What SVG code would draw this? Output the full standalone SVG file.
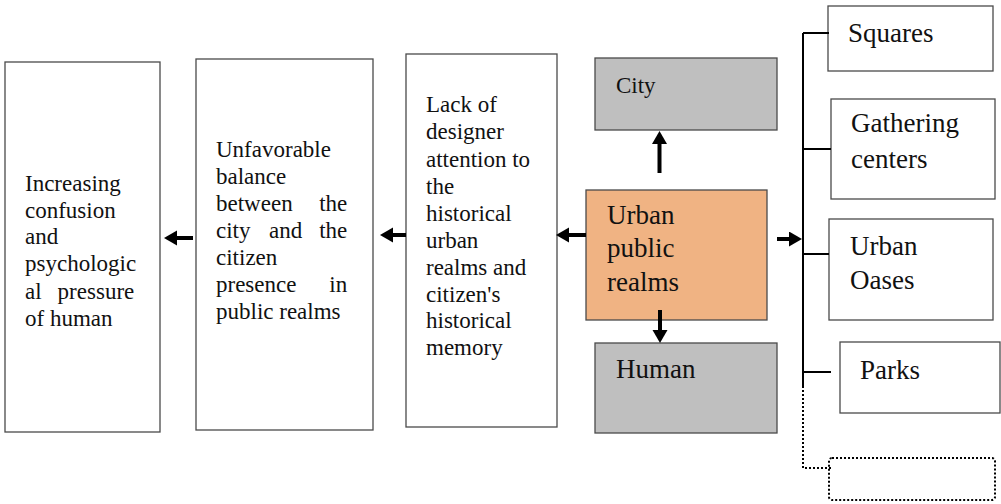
<svg xmlns="http://www.w3.org/2000/svg" width="1001" height="504" viewBox="0 0 1001 504">
<style>
  .box{fill:#fff;stroke:#4a4a4a;stroke-width:1.3}
  .gray{fill:#bfbfbf;stroke:#4a4a4a;stroke-width:1.3}
  .orange{fill:#f0b383;stroke:#4a4a4a;stroke-width:1.3}
  .dotted{fill:#fff;stroke:#000;stroke-width:2;stroke-dasharray:2,2}
  .t23{font-family:'Liberation Serif',serif;font-size:23px;fill:#111}
  .t27{font-family:'Liberation Serif',serif;font-size:27px;fill:#111}
  .arrow{stroke:#000;stroke-width:4;fill:none;marker-end:url(#head)}
  .br{stroke:#000;stroke-width:2;fill:none}
  .brd{stroke:#000;stroke-width:2;fill:none;stroke-dasharray:2,2}
</style>
<defs>
  <marker id="head" markerUnits="userSpaceOnUse" markerWidth="14" markerHeight="16" refX="1" refY="7.5" orient="auto">
    <path d="M0,0 L13,7.5 L0,15 z" fill="#000"/>
  </marker>
</defs>
<rect width="1001" height="504" fill="#fff"/>

<g id="node-increasing">
  <rect class="box" x="5" y="62" width="155" height="370"/>
  <text class="t23">
    <tspan x="25" y="191">Increasing</tspan>
    <tspan x="25" y="218">confusion</tspan>
    <tspan x="25" y="244">and</tspan>
    <tspan x="25" y="271">psychologic</tspan>
    <tspan x="25" y="299">al</tspan>
    <tspan x="140" y="299" text-anchor="end">pressure</tspan>
    <tspan x="25" y="326">of human</tspan>
  </text>
</g>

<g id="node-unfavorable">
  <rect class="box" x="196" y="59" width="177" height="371"/>
  <text class="t23">
    <tspan x="216" y="157">Unfavorable</tspan>
    <tspan x="216" y="184">balance</tspan>
    <tspan x="216" y="211">between</tspan>
    <tspan x="353" y="211" text-anchor="end">the</tspan>
    <tspan x="216" y="238">city</tspan>
    <tspan x="269" y="238">and</tspan>
    <tspan x="353" y="238" text-anchor="end">the</tspan>
    <tspan x="216" y="265">citizen</tspan>
    <tspan x="216" y="292">presence</tspan>
    <tspan x="353" y="292" text-anchor="end">in</tspan>
    <tspan x="216" y="319">public realms</tspan>
  </text>
</g>

<g id="node-lack">
  <rect class="box" x="406" y="54" width="151" height="373"/>
  <text class="t23">
    <tspan x="426" y="112">Lack of</tspan>
    <tspan x="426" y="139">designer</tspan>
    <tspan x="426" y="167">attention to</tspan>
    <tspan x="426" y="194">the</tspan>
    <tspan x="426" y="221">historical</tspan>
    <tspan x="426" y="248">urban</tspan>
    <tspan x="426" y="275">realms and</tspan>
    <tspan x="426" y="302">citizen's</tspan>
    <tspan x="426" y="328">historical</tspan>
    <tspan x="426" y="355">memory</tspan>
  </text>
</g>

<g id="node-city">
  <rect class="gray" x="595" y="58" width="182" height="72"/>
  <text class="t23" x="616" y="93">City</text>
</g>

<g id="node-urban">
  <rect class="orange" x="586" y="190" width="181" height="130"/>
  <text class="t27">
    <tspan x="607" y="224">Urban</tspan>
    <tspan x="607" y="257">public</tspan>
    <tspan x="607" y="291">realms</tspan>
  </text>
</g>

<g id="node-human">
  <rect class="gray" x="595" y="343" width="182" height="90"/>
  <text class="t27" x="616" y="378">Human</text>
</g>

<g id="node-squares">
  <rect class="box" x="828" y="6" width="165" height="65"/>
  <text class="t27" x="848" y="42">Squares</text>
</g>

<g id="node-gathering">
  <rect class="box" x="831" y="99" width="164" height="100"/>
  <text class="t27">
    <tspan x="851" y="132">Gathering</tspan>
    <tspan x="851" y="168">centers</tspan>
  </text>
</g>

<g id="node-oases">
  <rect class="box" x="829" y="219" width="164" height="101"/>
  <text class="t27">
    <tspan x="850" y="255">Urban</tspan>
    <tspan x="850" y="289">Oases</tspan>
  </text>
</g>

<g id="node-parks">
  <rect class="box" x="840" y="342" width="160" height="71"/>
  <text class="t27" x="860" y="379">Parks</text>
</g>

<g id="node-empty">
  <rect class="dotted" x="829" y="458" width="166" height="42" rx="3"/>
</g>

<g id="connectors">
  <line class="arrow" x1="193" y1="238" x2="176" y2="238"/>
  <line class="arrow" x1="406" y1="235" x2="392" y2="235"/>
  <line class="arrow" x1="586" y1="235" x2="568" y2="235"/>
  <line class="arrow" x1="659.5" y1="173" x2="659.5" y2="143"/>
  <line class="arrow" x1="660" y1="310" x2="660" y2="331"/>
  <line class="arrow" x1="777" y1="239" x2="790" y2="239"/>
  <path class="br" d="M803,33 L803,388"/>
  <path class="br" d="M803,33 L829,33 M803,149 L831,149 M803,254 L829,254 M803,372 L831,372"/>
  <path class="brd" d="M803,390 L803,468 L831,468"/>
</g>
</svg>
